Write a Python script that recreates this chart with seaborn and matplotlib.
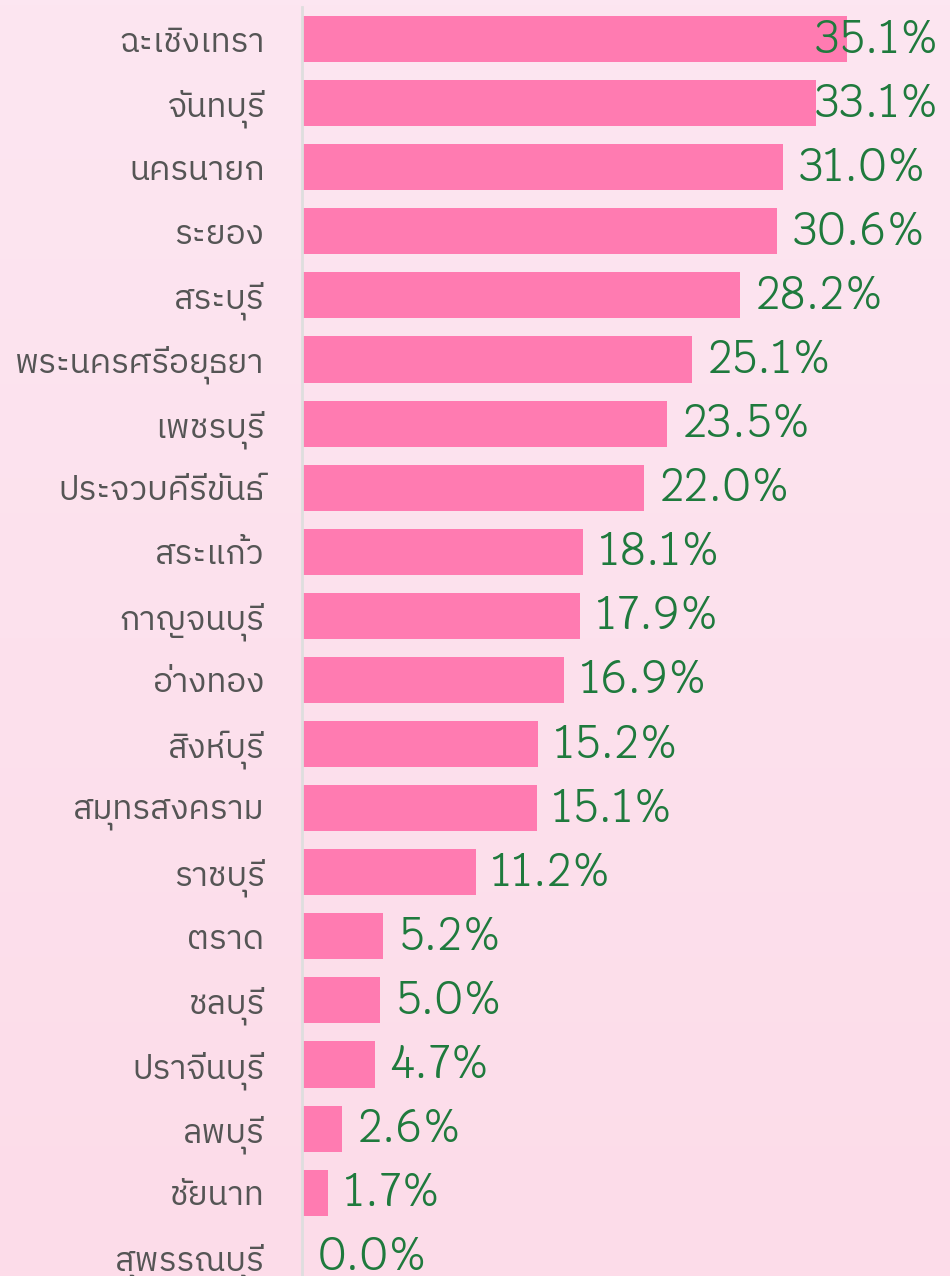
import numpy as np
import matplotlib
matplotlib.use("Agg")
import matplotlib.pyplot as plt
import seaborn as sns

# data
provinces = ["ฉะเชิงเทรา", "จันทบุรี", "นครนายก", "ระยอง", "สระบุรี",
             "พระนครศรีอยุธยา", "เพชรบุรี", "ประจวบคีรีขันธ์", "สระแก้ว", "กาญจนบุรี",
             "อ่างทอง", "สิงห์บุรี", "สมุทรสงคราม", "ราชบุรี", "ตราด",
             "ชลบุรี", "ปราจีนบุรี", "ลพบุรี", "ชัยนาท", "สุพรรณบุรี"]
percent = [35.1, 33.1, 31.0, 30.6, 28.2, 25.1, 23.5, 22.0, 18.1, 17.9,
           16.9, 15.2, 15.1, 11.2, 5.2, 5.0, 4.7, 2.6, 1.7, 0.0]
value_labels = [f"{v:.1f}%" for v in percent]

sns.set_style("white")
plt.rcParams['font.family'] = ['IBM Plex Sans Thai', 'Noto Sans Thai', 'DejaVu Sans']

fig = plt.figure(figsize=(9.5, 12.76), dpi=100)

# soft pink vertical gradient behind everything
bg = fig.add_axes([0, 0, 1, 1], zorder=-1)
grad = np.linspace(0, 1, 256).reshape(-1, 1)
top = np.array([0xfc, 0xe6, 0xf1]) / 255
bot = np.array([0xfd, 0xdc, 0xe9]) / 255
img = top + (bot - top) * grad[..., None]
bg.imshow(img, aspect="auto", extent=[0, 1, 0, 1], origin="upper")
bg.axis("off")

ax = fig.add_axes([302 / 950, 0, 648 / 950, 1269 / 1276])
ax.set_facecolor("none")
sns.barplot(x=percent, y=provinces, orient="h", color="#ff7bb1",
            saturation=1, width=0.72, linewidth=0, ax=ax)

xmax = 41.72
ax.set_xlim(0, xmax)
ax.set_ylim(19.3, -0.5)
ax.set_xticks([])
ax.set_xlabel("")
ax.set_ylabel("")
ax.tick_params(axis="y", length=0, pad=27, labelsize=24, labelcolor="#555555")
for s in ["top", "right", "bottom"]:
    ax.spines[s].set_visible(False)
ax.spines["left"].set_color("#dedede")
ax.spines["left"].set_linewidth(2)

# value labels, pushed back inside the canvas when they would overflow
fig.canvas.draw()
renderer = fig.canvas.get_renderer()
limit = 41.05
for i, (v, lab) in enumerate(zip(percent, value_labels)):
    t = ax.text(v + 1.0, i, lab, va="center", ha="left", fontsize=33,
                color="#1f7a3d", family=["Krub", "DejaVu Sans"])
    bb = t.get_window_extent(renderer).transformed(ax.transData.inverted())
    if bb.x1 > limit:
        t.set_x(limit)
        t.set_ha("right")

fig.savefig("out.png", dpi=100)
